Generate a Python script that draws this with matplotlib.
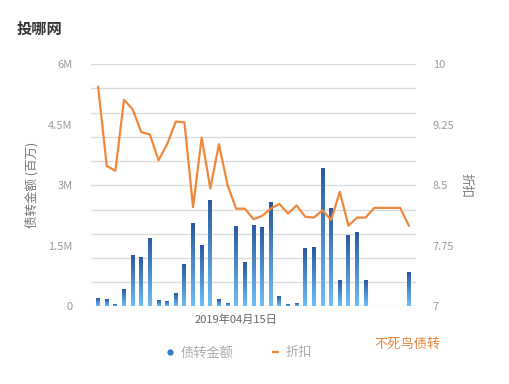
import matplotlib
matplotlib.use("Agg")
import matplotlib.pyplot as plt
import numpy as np
from matplotlib.colors import LinearSegmentedColormap
from matplotlib.lines import Line2D

plt.rcParams['font.family'] = ['Noto Sans CJK SC', 'DejaVu Sans']

# 债转金额 (millions) and 折扣 per day
amounts = [0.18, 0.16, 0.03, 0.40, 1.24, 1.20, 1.67, 0.13, 0.11, 0.31,
           1.02, 2.04, 1.51, 2.61, 0.16, 0.06, 1.97, 1.07, 1.99, 1.94,
           2.56, 0.23, 0.03, 0.05, 1.42, 1.45, 3.40, 2.42, 0.63, 1.75,
           1.83, 0.64, 0, 0, 0, 0, 0.83]
discount = [9.72, 8.74, 8.68, 9.56, 9.44, 9.16, 9.13, 8.81, 9.01, 9.29,
            9.28, 8.23, 9.09, 8.46, 9.01, 8.50, 8.21, 8.21, 8.08, 8.12,
            8.21, 8.27, 8.15, 8.25, 8.11, 8.10, 8.19, 8.07, 8.42, 8.00,
            8.10, 8.10, 8.22, 8.22, 8.22, 8.22, 8.00]
date_label_idx = 16
date_label = "2019年04月15日"
left_ticks = [0, 1.5, 3, 4.5, 6]
left_labels = ["0", "1.5M", "3M", "4.5M", "6M"]
right_ticks = [7, 7.75, 8.5, 9.25, 10]
right_labels = ["7", "7.75", "8.5", "9.25", "10"]

gray = "#9a9a9a"
grid_c = "#dcdcdc"
orange = "#f0883c"
cmap = LinearSegmentedColormap.from_list("bar", ["#6fbdf7", "#2b5aa3"])

fig = plt.figure(figsize=(5.1, 3.84), dpi=100)
ax = fig.add_axes([0.178, 0.2023, 0.638, 0.6303])
x = np.arange(len(amounts))
w = 0.45

bars = ax.bar(x, amounts, width=w, color="none", zorder=2)
grad = np.linspace(0, 1, 100).reshape(-1, 1)
for b in bars:
    h = b.get_height()
    if h <= 0:
        continue
    x0 = b.get_x()
    ax.imshow(grad, extent=[x0, x0 + b.get_width(), 0, h], origin="lower",
              aspect="auto", cmap=cmap, zorder=2)

ax.set_xlim(-0.85, len(amounts) - 1 + 0.85)
ax.set_ylim(0, 6)
ax.set_yticks(left_ticks)
ax.set_yticklabels(left_labels)
ax.set_yticks(np.linspace(0, 6, 11), minor=True)
ax.yaxis.remove_overlapping_locs = False
ax.grid(which="minor", axis="y", color=grid_c, linewidth=1)
ax.tick_params(axis="y", which="both", length=0, labelsize=8, colors=gray, pad=13)
ax.set_xticks([date_label_idx])
ax.set_xticklabels([date_label])
ax.tick_params(axis="x", length=0, labelsize=8, colors="#666666", pad=6)
for s in ax.spines.values():
    s.set_visible(False)
ax.set_axisbelow(True)
ax.set_ylabel("债转金额 (百万)", fontsize=9, color="#777777", labelpad=7)

ax2 = ax.twinx()
ax2.plot(x, discount, color=orange, linewidth=1.6, zorder=3)
ax2.set_ylim(7, 10)
ax2.set_yticks(right_ticks)
ax2.set_yticklabels(right_labels)
ax2.tick_params(axis="y", length=0, labelsize=8, colors=gray, pad=12)
for s in ax2.spines.values():
    s.set_visible(False)
ax2.set_ylabel("折扣", fontsize=9, color="#777777", rotation=-90, labelpad=13)

fig.text(0.033, 0.925, "投哪网", fontsize=11, fontweight="bold", color="#333333",
         va="center", ha="left")

handles = [Line2D([], [], marker="o", color="#3a78c8", linestyle="none", markersize=3.5),
           Line2D([], [], color=orange, linewidth=1.6)]
fig.legend(handles, ["债转金额", "折扣"], loc="center", bbox_to_anchor=(0.47, 0.081),
           ncol=2, frameon=False, fontsize=9.5, labelcolor="#aaaaaa",
           handlelength=0.4, handletextpad=0.6, columnspacing=3.0)

fig.text(0.735, 0.104, "不死鸟债转", fontsize=9.5, color="#e8863e", ha="left", va="center")

fig.savefig("out.png", dpi=100)
